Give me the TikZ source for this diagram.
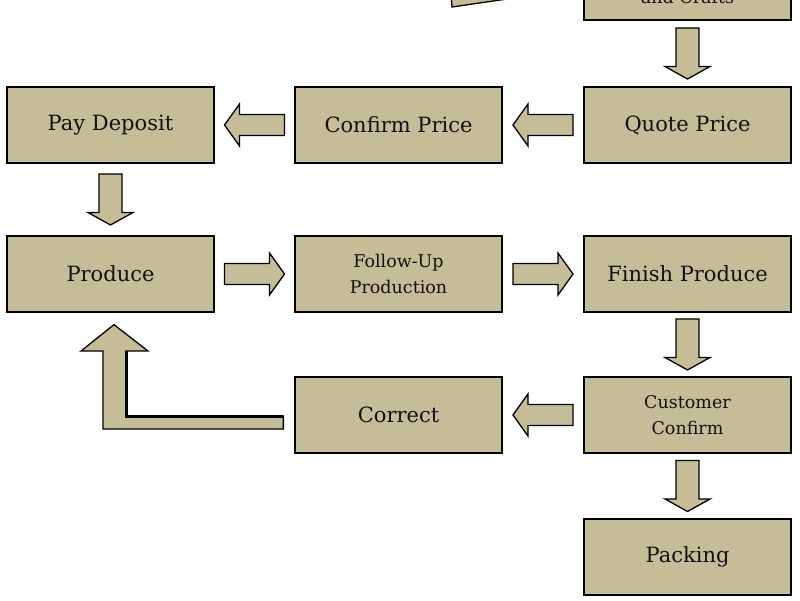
\documentclass[tikz,border=0pt]{standalone}
\usepackage{fontspec}
\setmainfont{DejaVu Serif}
\usetikzlibrary{calc}
\definecolor{tanfill}{HTML}{C4BD97}
\definecolor{ink}{HTML}{111111}
\tikzset{
  box/.style={draw=black, line width=1.3pt, fill=tanfill, minimum width=207pt, minimum height=76pt,
    inner sep=0pt, text=ink, font=\fontsize{21}{26}\selectfont, align=center},
  smalltext/.style={font=\fontsize{17.5}{26}\selectfont},
  blk/.style={draw=black, line width=1.3pt, fill=tanfill, line join=miter},
  pics/downarr/.style={code={\draw[blk] (-11.5,-25.5) -- (11.5,-25.5) -- (11.5,13) -- (22.5,13) -- (0,25.5) -- (-22.5,13) -- (-11.5,13) -- cycle;}},
  pics/leftarr/.style={code={\draw[blk] (30,-10.5) -- (-15,-10.5) -- (-15,-21) -- (-30,0) -- (-15,21) -- (-15,10.5) -- (30,10.5) -- cycle;}},
  pics/rightarr/.style={code={\draw[blk] (-30,-10.5) -- (15,-10.5) -- (15,-21) -- (30,0) -- (15,21) -- (15,10.5) -- (-30,10.5) -- cycle;}},
}
\begin{document}
\begin{tikzpicture}[x=1pt,y=-1pt]
\useasboundingbox (0,0) rectangle (800,601);
\clip (0,0) rectangle (800,601);
\fill[white] (0,0) rectangle (800,601);
% partial arrow at the top
\draw[blk] (450,-20) -- (452,7) -- (500,0) -- (530,-4) -- (530,-20) -- cycle;
% boxes
\node[box] (arts) at (687.5,-18) {};
\node[anchor=base, smalltext, text=ink] (artstext) at (687.5,4) {and Crafts};
\node[box] (pay) at (110.5,125) {Pay Deposit};
\node[box] (confirm) at (398.5,125) {Confirm Price};
\node[box] (quote) at (687.5,125) {Quote Price};
\node[box] (produce) at (110.5,274) {Produce};
\node[box,smalltext] (follow) at (398.5,274) {Follow-Up\\Production};
\node[box] (finish) at (687.5,274) {Finish Produce};
\node[box] (correct) at (398.5,415) {Correct};
\node[box,smalltext] (cust) at (687.5,415) {Customer\\Confirm};
\node[box] (pack) at (687.5,557) {Packing};
% block arrows
\pic at ($(arts.south)!0.5!(quote.north)$) {downarr};
\pic at ($(quote.west)!0.5!(confirm.east)$) {leftarr};
\pic at ($(confirm.west)!0.5!(pay.east)$) {leftarr};
\pic at ($(pay.south)!0.5!(produce.north)$) {downarr};
\pic at ($(produce.east)!0.5!(follow.west)$) {rightarr};
\pic at ($(follow.east)!0.5!(finish.west)$) {rightarr};
\pic at ($(finish.south)!0.5!(cust.north)$) {downarr};
\pic at ($(cust.west)!0.5!(correct.east)$) {leftarr};
\pic at ($(cust.south)!0.5!(pack.north)$) {downarr};
% bent arrow from Correct back to Produce
\coordinate (bs) at ($(correct.west)+(-11,0)$);
\coordinate (bt) at ($(produce.south)+(3.5,12)$);
\draw[blk] ($(bs)+(0,1)$) -- (126,416) -- (126,351) -- (148,351) -- (bt) -- (81,351) -- (103,351) -- (103,429) -- ($(bs)+(0,14)$) -- cycle;
\draw[line width=2.2pt, line cap=butt] ($(bs)+(0,1.5)$) -- (126.5,416.5) -- (126.5,351);
\end{tikzpicture}
\end{document}
